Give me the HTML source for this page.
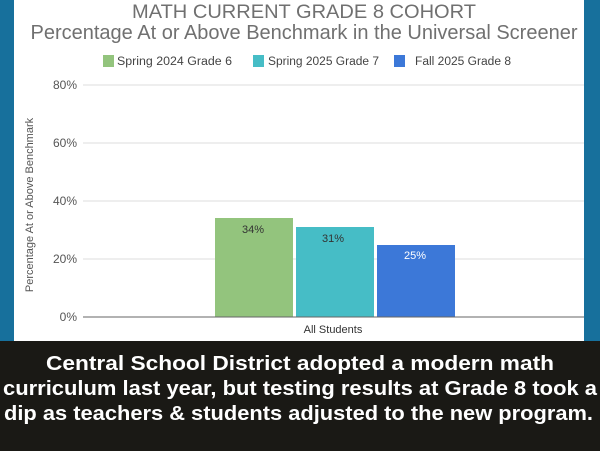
<!DOCTYPE html>
<html><head><meta charset="utf-8"><style>
html,body{margin:0;padding:0;background:#1a1915;}
svg{display:block}
</style></head><body>
<svg width="600" height="451" viewBox="0 0 600 451" xmlns="http://www.w3.org/2000/svg" font-family="Liberation Sans, Arial, sans-serif">
<rect x="0" y="0" width="600" height="343" fill="#17709c"/>
<rect x="14" y="0" width="570" height="341" fill="#ffffff"/>
<rect x="0" y="341" width="600" height="110" fill="#1a1915"/>
<text x="304" y="18" text-anchor="middle" font-size="19" fill="#707070" textLength="344" lengthAdjust="spacingAndGlyphs">MATH CURRENT GRADE 8 COHORT</text>
<text x="304" y="39" text-anchor="middle" font-size="20" fill="#707070" textLength="547" lengthAdjust="spacingAndGlyphs">Percentage At or Above Benchmark in the Universal Screener</text>
<rect x="103" y="55" width="11" height="12" fill="#93c47d"/>
<text x="117" y="65" font-size="11.5" fill="#444" textLength="115" lengthAdjust="spacingAndGlyphs">Spring 2024 Grade  6</text>
<rect x="253" y="55" width="11" height="12" fill="#46bdc6"/>
<text x="268" y="65" font-size="11.5" fill="#444" textLength="111" lengthAdjust="spacingAndGlyphs">Spring 2025 Grade 7</text>
<rect x="394" y="55" width="11" height="12" fill="#3c78d8"/>
<text x="415" y="65" font-size="11.5" fill="#444" textLength="96" lengthAdjust="spacingAndGlyphs">Fall 2025 Grade 8</text>
<g stroke="#dddddd" stroke-width="1">
<line x1="83" y1="85" x2="584" y2="85"/>
<line x1="83" y1="143" x2="584" y2="143"/>
<line x1="83" y1="201" x2="584" y2="201"/>
<line x1="83" y1="259" x2="584" y2="259"/>
</g>
<g font-size="12" fill="#555" text-anchor="end">
<text x="77" y="89">80%</text>
<text x="77" y="147">60%</text>
<text x="77" y="205">40%</text>
<text x="77" y="263">20%</text>
<text x="77" y="321">0%</text>
</g>
<text transform="translate(33,205) rotate(-90)" text-anchor="middle" font-size="11" fill="#555">Percentage At or Above Benchmark</text>
<rect x="215" y="218" width="78" height="99" fill="#93c47d"/>
<rect x="296" y="227" width="78" height="90" fill="#46bdc6"/>
<rect x="377" y="245" width="78" height="72" fill="#3c78d8"/>
<line x1="83" y1="317" x2="584" y2="317" stroke="#666" stroke-width="1"/>
<text x="253" y="233" text-anchor="middle" font-size="11" fill="#333">34%</text>
<text x="333" y="242" text-anchor="middle" font-size="11" fill="#333">31%</text>
<text x="415" y="259" text-anchor="middle" font-size="11" fill="#fff">25%</text>
<text x="333" y="333" text-anchor="middle" font-size="11" fill="#333">All Students</text>
<g font-size="20" font-weight="bold" fill="#ffffff">
<text x="46" y="370" textLength="508" lengthAdjust="spacingAndGlyphs">Central School District adopted a  modern math</text>
<text x="3" y="395" textLength="594" lengthAdjust="spacingAndGlyphs">curriculum last year, but testing results at Grade 8 took a</text>
<text x="4" y="420" textLength="589" lengthAdjust="spacingAndGlyphs">dip as teachers &amp; students adjusted to the new program.</text>
</g>
</svg>
</body></html>
